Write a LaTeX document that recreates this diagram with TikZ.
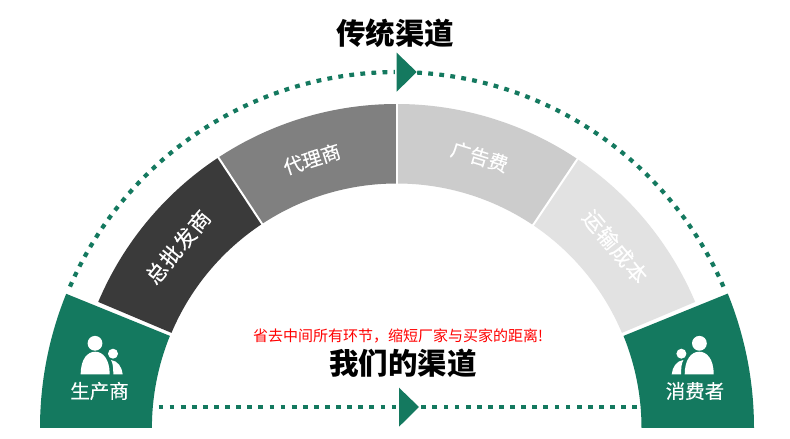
\documentclass[tikz,border=0pt]{standalone}
\usepackage{fontspec}
\setmainfont{Noto Sans CJK SC}
\newfontfamily\labelfont[FakeBold=0.25]{Noto Sans CJK SC}
\newfontfamily\spacedfont[LetterSpace=5,FakeBold=0.25]{Noto Sans CJK SC}
\definecolor{chgreen}{HTML}{14795F}
\definecolor{segdark}{HTML}{3A3A3A}
\definecolor{segmid}{HTML}{808080}
\definecolor{seglight}{HTML}{CCCCCC}
\definecolor{segpale}{HTML}{E2E2E2}
\tikzset{
  dotline/.style={draw=chgreen,line width=4.2pt,dash pattern=on 4.8pt off 6.3pt},
  titletext/.style={font=\fontsize{29.5}{32}\selectfont\bfseries,text=black,inner sep=0pt},
  seglabel/.style={font=\labelfont\fontsize{19.5}{22}\selectfont,text=white,inner sep=0pt},
  longlabel/.style={font=\spacedfont\fontsize{21.2}{24}\selectfont,text=white,inner sep=0pt},
  chevron/.style={fill=chgreen,draw=none}
}
\newcommand{\ringseg}[3]{%
  \fill[#3] (#1:324pt) arc[start angle=#1,end angle=#2,radius=324pt]
    -- (#2:244.5pt) arc[start angle=#2,end angle=#1,radius=244.5pt] -- cycle;}
\newcommand{\peopleicon}{%
  \fill[white] (0pt,0pt) circle[radius=7.4pt];
  \fill[white] (-14.3pt,-31pt) .. controls (-14.3pt,-15pt) and (-7pt,-8.4pt) .. (0.2pt,-8.4pt)
    .. controls (8pt,-8.4pt) and (14.7pt,-16pt) .. (14.7pt,-31pt) -- cycle;
  \fill[white] (18pt,-10.4pt) circle[radius=5pt];
  \fill[white] (16pt,-16.7pt) .. controls (23pt,-17.5pt) and (27pt,-24pt) .. (27.7pt,-31pt)
    -- (18.3pt,-31pt) .. controls (18.3pt,-25pt) and (18pt,-20pt) .. (16pt,-16.7pt) -- cycle;}
\begin{document}
\begin{tikzpicture}[x=1pt,y=1pt]
\useasboundingbox (0,0) rectangle (790,439);
\fill[white] (0,0) rectangle (790,439);
\begin{scope}[shift={(396.7pt,11pt)}]
  \ringseg{157.1}{123.4}{segdark}
  \ringseg{123.4}{90}{segmid}
  \ringseg{90}{56.1}{seglight}
  \ringseg{56.1}{22.9}{segpale}
  \draw[white,line width=2pt] (123.4:240pt) -- (123.4:330pt);
  \draw[white,line width=2pt] (90:240pt) -- (90:330pt);
  \draw[white,line width=2pt] (56.1:240pt) -- (56.1:330pt);
  % end blocks
  \fill[chgreen] (180:356.7pt) arc[start angle=180,end angle=157.9,radius=356.7pt]
    -- (157.9:244.8pt) arc[start angle=157.9,end angle=180,radius=244.8pt] -- cycle;
  \fill[chgreen] (0:357.3pt) arc[start angle=0,end angle=22.1,radius=357.3pt]
    -- (22.1:244.8pt) arc[start angle=22.1,end angle=0,radius=244.8pt] -- cycle;
  % arc connectors
  \coordinate (arcL) at (156.6:356pt);
  \coordinate (arcR) at (23.4:356pt);
  \draw[dotline] (arcL) arc[start angle=156.6,end angle=90.3,radius=356pt];
  \draw[dotline] (arcR) arc[start angle=23.4,end angle=87.2,radius=356pt];
  % segment labels
  \node[longlabel,rotate=50.4] (wholesale) at (140.4:284pt) {总批发商};
  \node[seglabel,rotate=17.5] (agent) at (107.5:282pt) {代理商};
  \node[seglabel,rotate=-17] (ads) at (73:283.5pt) {广告费};
  \node[longlabel,rotate=-50.3] (freight) at (39.7:284pt) {运输成本};
\end{scope}
% triangles
\coordinate (topTipA) at (396.7pt,386.3pt);
\coordinate (topTipB) at (396.7pt,347.3pt);
\coordinate (topTip) at (416.7pt,367pt);
\fill[chevron] (topTipA) -- (topTip) -- (topTipB) -- cycle;
\coordinate (botTipA) at (399pt,51.3pt);
\coordinate (botTipB) at (399pt,12.3pt);
\coordinate (botTip) at (419pt,32pt);
\fill[chevron] (botTipA) -- (botTip) -- (botTipB) -- cycle;
% bottom connectors
\coordinate (botL) at (158.5pt,32pt);
\coordinate (botR) at (637pt,32pt);
\draw[dotline] (botL) -- (botTip -| botTipA);
\draw[dotline] (botR) -- (botTip);
% icons
\begin{scope}[shift={(95pt,95.7pt)}] \peopleicon \end{scope}
\begin{scope}[shift={(699.4pt,95.7pt)},xscale=-1] \peopleicon \end{scope}
\node[seglabel] (maker) at (99.5pt,48pt) {生产商};
\node[seglabel] (buyer) at (695pt,48pt) {消费者};
% titles
\node[titletext] (toptitle) at (395pt,406pt) {传统渠道};
\node[titletext] (ourtitle) at (403pt,76pt) {我们的渠道};
\node[font=\fontsize{15}{17}\selectfont,text=red,inner sep=0pt] (slogan) at (398pt,103pt) {省去中间所有环节，缩短厂家与买家的距离!};
\end{tikzpicture}
\end{document}
